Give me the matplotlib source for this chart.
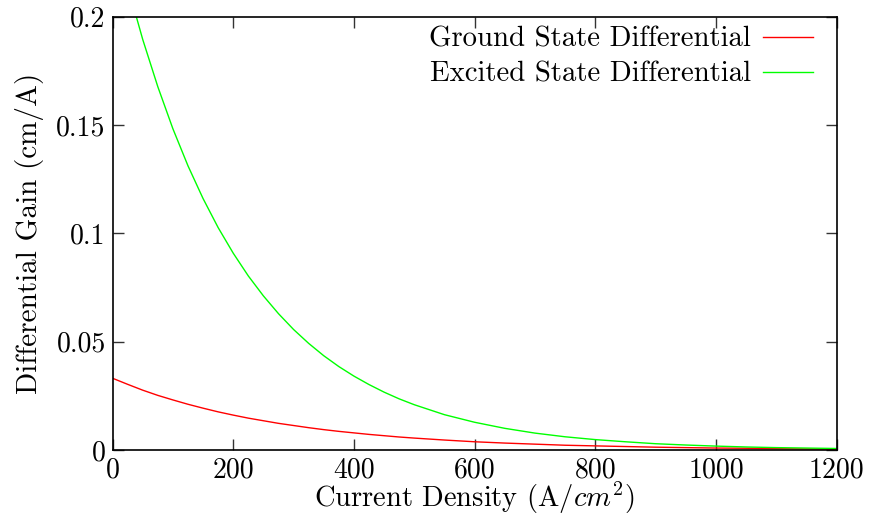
import matplotlib
matplotlib.use('Agg')
import matplotlib.pyplot as plt

plt.rcParams['font.family'] = 'serif'
plt.rcParams['font.serif'] = ['cmr10']
plt.rcParams['mathtext.fontset'] = 'cm'
plt.rcParams['axes.unicode_minus'] = False

# current density samples (A/cm^2), finer where the curves bend most
current = [0, 25, 50, 75, 100, 125, 150, 175, 200, 225, 250, 275, 300, 325,
           350, 375, 400, 425, 450, 475, 500, 550, 600, 650, 700, 750, 800,
           850, 900, 950, 1000, 1050, 1100, 1150, 1200]

ground_gain = [0.0331, 0.0303, 0.0276, 0.0252, 0.0231, 0.0211, 0.0193, 0.0176,
               0.0161, 0.0147, 0.0135, 0.0123, 0.0113, 0.0103, 0.0094, 0.0086,
               0.0079, 0.0072, 0.0066, 0.0060, 0.0055, 0.0046, 0.0038, 0.0032,
               0.0027, 0.0022, 0.0019, 0.0016, 0.0013, 0.0011, 0.0009, 0.0008,
               0.0006, 0.0005, 0.0004]

excited_gain = [0.242, 0.2141, 0.1894, 0.1676, 0.1482, 0.1311, 0.1160, 0.1026,
                0.0908, 0.0803, 0.0711, 0.0629, 0.0556, 0.0492, 0.0435, 0.0385,
                0.0341, 0.0302, 0.0267, 0.0236, 0.0209, 0.0163, 0.0128, 0.0100,
                0.0078, 0.0061, 0.0048, 0.0038, 0.0029, 0.0023, 0.0018, 0.0014,
                0.0011, 0.0009, 0.0007]

xticks = [0, 200, 400, 600, 800, 1000, 1200]
yticks = [0, 0.05, 0.1, 0.15, 0.2]
ytick_labels = ['0', '0.05', '0.1', '0.15', '0.2']

fig = plt.figure(figsize=(8.74, 5.13), dpi=100)
ax = fig.add_axes([0.1288, 0.1228, 0.8284, 0.845])

ax.plot(current, ground_gain, color='#ff0000', lw=1.0, label='Ground State Differential')
ax.plot(current, excited_gain, color='#00ff00', lw=1.0, label='Excited State Differential')

ax.set_xlim(0, 1200)
ax.set_ylim(0, 0.2)
ax.set_xticks(xticks)
ax.set_xticklabels([str(t) for t in xticks])
ax.set_yticks(yticks)
ax.set_yticklabels(ytick_labels)
ax.tick_params(direction='in', length=8, width=1, top=True, right=True,
               labelsize=20, color='#333333', pad=5)
for s in ax.spines.values():
    s.set_linewidth(1.2)

ax.set_xlabel('Current Density (A/$cm^2$)', fontsize=20.5, labelpad=-2)
ax.set_ylabel('Differential Gain (cm/A)', fontsize=21, labelpad=9)

ax.legend(loc='upper right', bbox_to_anchor=(0.999, 1.03), frameon=False,
          markerfirst=False, fontsize=20.7, handlelength=1.75, handletextpad=0.4,
          labelspacing=0.3, borderpad=0.3)

fig.savefig('out.png', dpi=100)
